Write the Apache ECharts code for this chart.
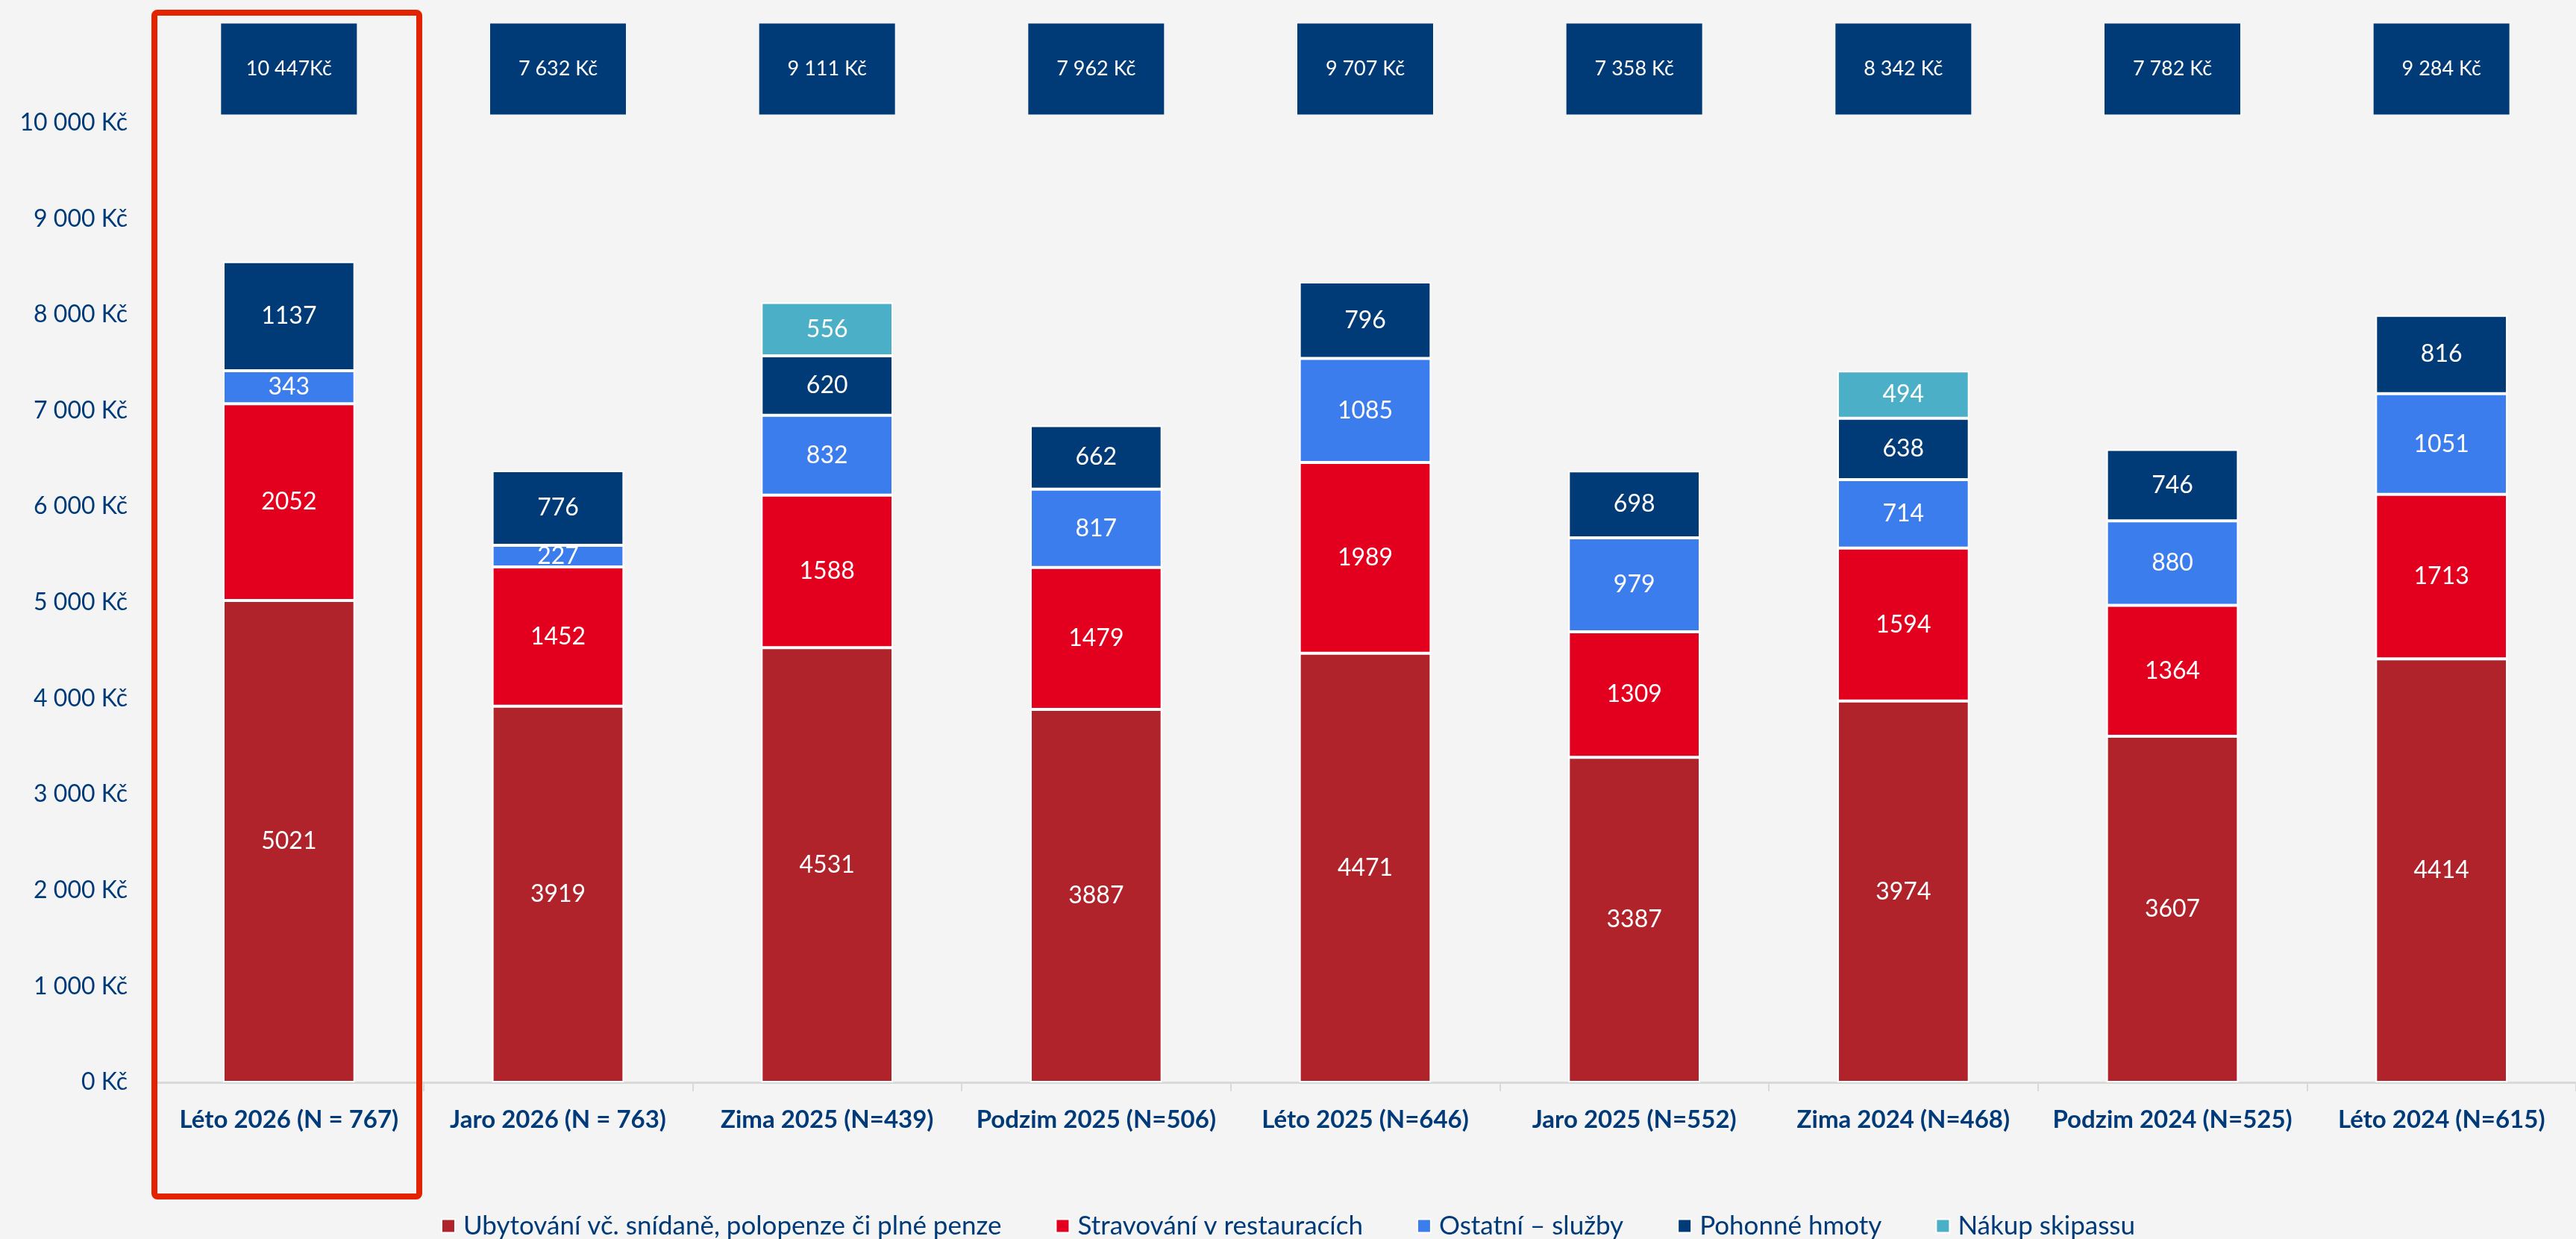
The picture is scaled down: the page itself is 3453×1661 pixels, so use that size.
<!DOCTYPE html>
<html>
<head>
<meta charset="utf-8">
<script src="https://cdn.jsdelivr.net/npm/echarts@6/dist/echarts.min.js"></script>
<style>
  html, body { margin: 0; padding: 0; background: #f4f4f4; }
  #main { width: 3453px; height: 1661px; }
</style>
</head>
<body>
<div id="main"></div>
<script>
// data
const categories = ['Léto 2026 (N = 767)', 'Jaro 2026 (N = 763)', 'Zima 2025 (N=439)', 'Podzim 2025 (N=506)',
  'Léto 2025 (N=646)', 'Jaro 2025 (N=552)', 'Zima 2024 (N=468)', 'Podzim 2024 (N=525)', 'Léto 2024 (N=615)'];
const ubytovani = [5021, 3919, 4531, 3887, 4471, 3387, 3974, 3607, 4414];
const stravovani = [2052, 1452, 1588, 1479, 1989, 1309, 1594, 1364, 1713];
const ostatni = [343, 227, 832, 817, 1085, 979, 714, 880, 1051];
const pohonne = [1137, 776, 620, 662, 796, 698, 638, 746, 816];
const skipass = ['-', '-', 556, '-', '-', '-', 494, '-', '-'];
const totalLabels = ['10 447Kč', '7 632 Kč', '9 111 Kč', '7 962 Kč', '9 707 Kč', '7 358 Kč', '8 342 Kč', '7 782 Kč', '9 284 Kč'];
const yTicks = [0, 1000, 2000, 3000, 4000, 5000, 6000, 7000, 8000, 9000, 10000];

const FONT = 'Lato';
const NAVY = '#003a78';
const BOX_Y = 10560; // where the total boxes sit

const fmt = (v) => String(v).replace(/\B(?=(\d{3})+(?!\d))/g, ' ') + ' Kč';

const barSeries = (name, data, color) => ({
  name, type: 'bar', stack: 'total', data, barWidth: '49%',
  itemStyle: { color, borderColor: '#ffffff', borderWidth: 2 },
  label: { show: true, position: 'inside', color: '#ffffff', fontFamily: FONT, fontSize: 32 }
});

const chart = echarts.init(document.getElementById('main'));
chart.setOption({
  backgroundColor: '#f4f4f4',
  animation: false,
  grid: { left: 207, width: 3254, top: 36, height: 1415 },
  legend: {
    top: 1621, left: 'center', itemGap: 72, itemWidth: 18, itemHeight: 18, icon: 'rect',
    data: ['Ubytování vč. snídaně, polopenze či plné penze', 'Stravování v restauracích', 'Ostatní – služby', 'Pohonné hmoty', 'Nákup skipassu'],
    itemStyle: { borderColor: '#ffffff', borderWidth: 2 },
    textStyle: { color: NAVY, fontFamily: FONT, fontSize: 35, padding: [0, 0, 0, 6] }
  },
  xAxis: {
    type: 'category', data: categories,
    axisLine: { lineStyle: { color: '#d9d9d9', width: 3 } },
    axisTick: { show: true, interval: 0, length: 12, lineStyle: { color: '#d9d9d9', width: 2 } },
    axisLabel: { interval: 0, color: NAVY, fontFamily: FONT, fontSize: 33, fontWeight: 'bold', margin: 34 }
  },
  yAxis: {
    type: 'value', min: 0, max: 11000, interval: 1000,
    splitLine: { show: false },
    axisLabel: {
      color: NAVY, fontFamily: FONT, fontSize: 32, margin: 36,
      formatter: (v) => yTicks.includes(v) ? fmt(v) : ''
    }
  },
  series: [
    barSeries('Ubytování vč. snídaně, polopenze či plné penze', ubytovani, '#b0232a'),
    barSeries('Stravování v restauracích', stravovani, '#e3001f'),
    barSeries('Ostatní – služby', ostatni, '#3b7ded'),
    barSeries('Pohonné hmoty', pohonne, '#013b77'),
    barSeries('Nákup skipassu', skipass, '#4bafc8'),
    {
      name: 'Celkem', type: 'scatter', symbol: 'rect', symbolSize: [182, 122],
      data: totalLabels.map((t, i) => [i, BOX_Y]),
      itemStyle: { color: '#013b77', opacity: 1 },
      label: {
        show: true, position: 'inside', color: '#ffffff', fontFamily: FONT, fontSize: 27,
        formatter: (p) => totalLabels[p.dataIndex]
      },
      z: 5
    }
  ],
  graphic: [{
    type: 'rect', shape: { x: 207, y: 17, width: 355, height: 1587, r: 4 },
    style: { fill: 'none', stroke: '#e32200', lineWidth: 8 }, z: 100
  }]
});
</script>
</body>
</html>
